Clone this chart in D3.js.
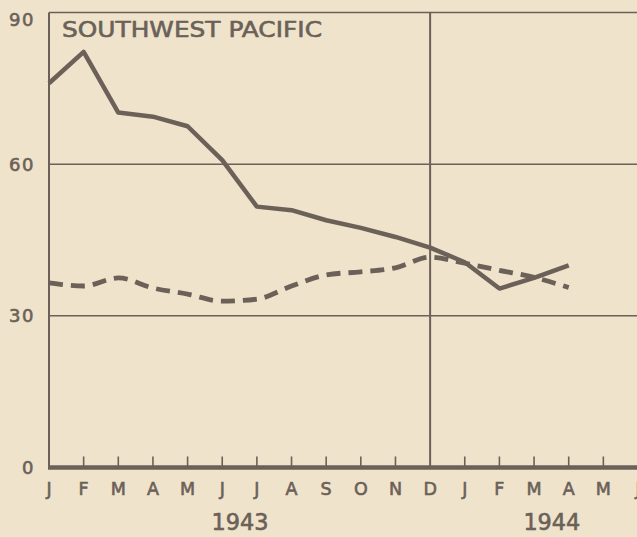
<!DOCTYPE html>
<html>
<head>
<meta charset="utf-8">
<script src="https://cdn.jsdelivr.net/npm/d3@7"></script>
<style>
  body { margin: 0; background: #efe3cb; }
  svg { display: block; }
  text { font-family: "DejaVu Sans", sans-serif; fill: #6b6158; stroke: #6b6158; stroke-width: 0.6px; }
</style>
</head>
<body>
<div class="chart"></div>
<script>
// month labels along the bottom (Jan 1943 .. Jun 1944)
var months = ["J","F","M","A","M","J","J","A","S","O","N","D","J","F","M","A","M","J"];
var yearLabels = [{ label: "1943", at: 5.5 }, { label: "1944", at: 14.5 }];
var yTicks = [0, 30, 60, 90];

// solid series, Jan 1943 - Apr 1944
var solidValues = [76.0, 82.2, 70.2, 69.4, 67.5, 60.8, 51.6, 50.9, 48.9, 47.4, 45.6, 43.5, 40.6, 35.4, 37.5, 40.0];
// dashed series, Jan 1943 - Apr 1944
var dashedValues = [36.5, 35.9, 37.5, 35.5, 34.3, 32.9, 33.3, 35.9, 38.1, 38.7, 39.5, 41.6, 40.4, 39.0, 37.6, 35.6];

var svgWidth = 637;
var svgHeight = 537;
var ink = "#6b6158";

var svg = d3.select(".chart")
  .append("svg")
  .attr("width", svgWidth)
  .attr("height", svgHeight);

var x = d3.scaleLinear().domain([0, 17]).range([49, 638]);
var y = d3.scaleLinear().domain([0, 90]).range([467.5, 12.5]);

// horizontal grid lines (30, 60, 90)
svg.selectAll(".grid")
  .data(yTicks.filter(d => d > 0))
  .enter()
  .append("line")
  .attr("x1", x(0))
  .attr("x2", svgWidth)
  .attr("y1", d => y(d))
  .attr("y2", d => y(d))
  .attr("stroke", ink)
  .attr("stroke-width", 1.5);

// left axis line
svg.append("line")
  .attr("x1", x(0)).attr("x2", x(0))
  .attr("y1", y(90)).attr("y2", y(0))
  .attr("stroke", ink)
  .attr("stroke-width", 2);

// year divider at December
svg.append("line")
  .attr("x1", x(11)).attr("x2", x(11))
  .attr("y1", y(90)).attr("y2", y(0))
  .attr("stroke", ink)
  .attr("stroke-width", 2);

// y labels (top one sits a bit below its line)
svg.selectAll(".ylab")
  .data(yTicks)
  .enter()
  .append("text")
  .attr("x", 35)
  .attr("y", d => d === 90 ? y(d) + 7 : y(d))
  .attr("dy", "0.36em")
  .attr("text-anchor", "end")
  .attr("font-size", 18)
  .attr("letter-spacing", 1.5)
  .text(d => d);

// month ticks
svg.selectAll(".tick")
  .data(d3.range(1, 17).filter(i => i !== 11))
  .enter()
  .append("line")
  .attr("x1", d => x(d)).attr("x2", d => x(d))
  .attr("y1", y(0) - 11).attr("y2", y(0))
  .attr("stroke", ink)
  .attr("stroke-width", 1.6);

// baseline
svg.append("line")
  .attr("x1", x(0) - 1).attr("x2", svgWidth)
  .attr("y1", y(0)).attr("y2", y(0))
  .attr("stroke", ink)
  .attr("stroke-width", 4.5);

// month labels
svg.selectAll(".mlab")
  .data(months)
  .enter()
  .append("text")
  .attr("x", (d, i) => x(i))
  .attr("y", 495)
  .attr("text-anchor", "middle")
  .attr("font-size", 17.5)
  .text(d => d);

// year labels
svg.selectAll(".yrlab")
  .data(yearLabels)
  .enter()
  .append("text")
  .attr("x", d => x(d.at) - 28)
  .attr("y", 530)
  .attr("font-size", 23)
  .attr("textLength", 57)
  .attr("lengthAdjust", "spacingAndGlyphs")
  .text(d => d.label);

// title
svg.append("text")
  .attr("x", 62)
  .attr("y", 37)
  .attr("font-size", 22)
  .attr("textLength", 260)
  .attr("lengthAdjust", "spacingAndGlyphs")
  .text("SOUTHWEST PACIFIC");

// solid line
var solidLine = d3.line()
  .x((d, i) => x(i))
  .y(d => y(d));

svg.append("path")
  .datum(solidValues)
  .attr("d", solidLine)
  .attr("fill", "none")
  .attr("stroke", ink)
  .attr("stroke-width", 4.5)
  .attr("stroke-linejoin", "round");

// dashed line
var dashedLine = d3.line()
  .x((d, i) => x(i))
  .y(d => y(d))
  .curve(d3.curveMonotoneX);

svg.append("path")
  .datum(dashedValues)
  .attr("d", dashedLine)
  .attr("fill", "none")
  .attr("stroke", ink)
  .attr("stroke-width", 4.8)
  .attr("stroke-dasharray", "14,8");
</script>
</body>
</html>
